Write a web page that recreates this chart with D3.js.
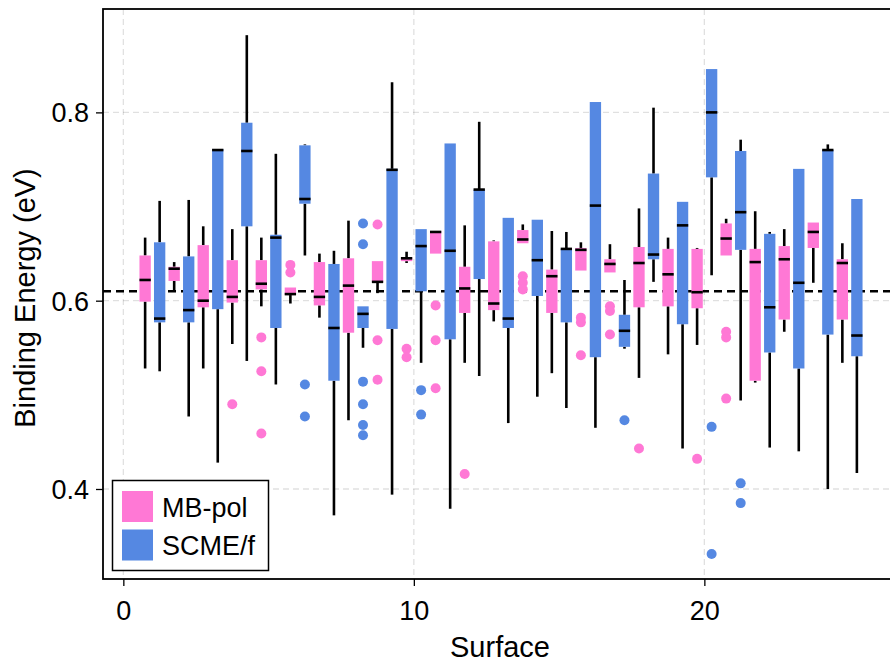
<!DOCTYPE html>
<html>
<head>
<meta charset="utf-8">
<script src="https://cdn.jsdelivr.net/npm/d3@7"></script>
<style>
  html, body { margin: 0; padding: 0; background: #fff; }
  svg { display: block; }
  text { font-family: "Liberation Sans", Arial, Helvetica, sans-serif; }
</style>
</head>
<body>
<svg id="chart" width="890" height="664"></svg>
<script>
// ---------- data ----------
const surfaces = [1,2,3,4,5,6,7,8,9,10,11,12,13,14,15,16,17,18,19,20,21,22,23,24,25];
const seriesNames = ["MB-pol", "SCME/f"];
const seriesColors = ["#ff78d5", "#5588e2"];

// MB-pol
const mbLow  = [0.528,0.611,0.528,0.554,0.594,0.597,0.582,0.473,0.608,0.640,0.650,0.534,0.578,0.661,0.523,0.632,0.630,0.518,0.543,0.553,0.648,0.513,0.567,0.619,0.534];
const mbQ1   = [0.599,0.621,0.593,0.598,0.612,0.606,0.595,0.566,0.620,0.642,0.650,0.587,0.590,0.661,0.587,0.632,0.630,0.593,0.594,0.592,0.648,0.515,0.580,0.656,0.580];
const mbMed  = [0.622,0.634,0.600,0.604,0.618,0.607,0.604,0.616,0.620,0.645,0.673,0.613,0.597,0.665,0.626,0.654,0.639,0.640,0.628,0.609,0.666,0.641,0.644,0.673,0.640];
const mbQ3   = [0.648,0.636,0.659,0.643,0.643,0.614,0.641,0.645,0.642,0.646,0.674,0.636,0.663,0.675,0.633,0.656,0.644,0.657,0.655,0.655,0.682,0.655,0.658,0.683,0.644];
const mbHigh = [0.667,0.641,0.679,0.676,0.667,0.614,0.650,0.685,0.642,0.652,0.674,0.680,0.664,0.681,0.674,0.662,0.660,0.698,0.667,0.656,0.687,0.695,0.676,0.683,0.661];
const mbOut  = [[],[],[],[0.490],[0.561,0.525,0.459],[0.638,0.630],[],[],[0.681,0.558,0.516],[0.549,0.540],
                [0.595,0.558,0.507],[0.416],[],[0.626,0.619,0.612],[],[0.582,0.577,0.542],[0.594,0.589,0.564],[0.443],[],[0.432],
                [0.567,0.561,0.496],[],[],[],[]];

// SCME/f
const scLow  = [0.525,0.477,0.428,0.536,0.511,0.648,0.372,0.550,0.394,0.534,0.379,0.520,0.470,0.498,0.486,0.465,0.549,0.620,0.443,0.627,0.494,0.444,0.440,0.400,0.417];
const scQ1   = [0.577,0.577,0.591,0.679,0.571,0.703,0.515,0.571,0.570,0.610,0.559,0.623,0.571,0.605,0.577,0.540,0.551,0.644,0.575,0.731,0.654,0.545,0.528,0.564,0.541];
const scMed  = [0.581,0.590,0.760,0.759,0.667,0.708,0.571,0.586,0.739,0.658,0.653,0.718,0.581,0.643,0.655,0.701,0.568,0.649,0.680,0.800,0.694,0.593,0.619,0.760,0.563];
const scQ3   = [0.662,0.647,0.761,0.789,0.670,0.765,0.639,0.594,0.740,0.676,0.767,0.718,0.688,0.686,0.655,0.811,0.585,0.735,0.705,0.846,0.759,0.671,0.740,0.760,0.708];
const scHigh = [0.706,0.707,0.761,0.882,0.756,0.766,0.653,0.594,0.832,0.676,0.767,0.790,0.688,0.686,0.673,0.811,0.622,0.805,0.705,0.846,0.771,0.673,0.740,0.766,0.708];
const scOut  = [[],[],[],[],[],[0.511,0.477],[],[0.682,0.660,0.514,0.490,0.468,0.457],[],[0.505,0.479],
                [],[],[],[],[],[],[0.473],[],[],[0.466,0.331],
                [0.406,0.385],[],[],[],[]];

const refLine = 0.61;
const xTicks = [0, 10, 20];
const yTicks = [0.4, 0.6, 0.8];
const xLabel = "Surface";
const yLabel = "Binding Energy (eV)";

// ---------- layout ----------
const svg = d3.select("#chart");
const L = 103, R = 899, T = 9, B = 579;
const x = d3.scaleLinear().domain([-0.7, 26.7]).range([L, R]);
const y = d3.scaleLinear().domain([0.3044, 0.9098]).range([B, T]);
const boxW = 0.39, offset = 0.25;

const series = [
  {name: seriesNames[0], color: seriesColors[0], off: -offset, low: mbLow, q1: mbQ1, med: mbMed, q3: mbQ3, high: mbHigh, out: mbOut},
  {name: seriesNames[1], color: seriesColors[1], off: offset,  low: scLow, q1: scQ1, med: scMed, q3: scQ3, high: scHigh, out: scOut}
];

// grid
const grid = svg.append("g").attr("stroke", "rgba(0,0,0,0.12)").attr("stroke-width", 1.3).attr("stroke-dasharray", "6,4");
xTicks.forEach(t => grid.append("line").attr("x1", x(t)).attr("x2", x(t)).attr("y1", T).attr("y2", B));
yTicks.forEach(t => grid.append("line").attr("x1", L).attr("x2", R).attr("y1", y(t)).attr("y2", y(t)));

// reference line
svg.append("line").attr("x1", L).attr("x2", R).attr("y1", y(refLine)).attr("y2", y(refLine))
  .attr("stroke", "#000").attr("stroke-width", 2.4).attr("stroke-dasharray", "8,5");

// boxes
series.forEach(s => {
  const g = svg.append("g");
  surfaces.forEach((sf, i) => {
    const cx = x(sf + s.off);
    g.append("line").attr("x1", cx).attr("x2", cx).attr("y1", y(s.high[i])).attr("y2", y(s.q3[i]))
      .attr("stroke", "#000").attr("stroke-width", 2.6);
    g.append("line").attr("x1", cx).attr("x2", cx).attr("y1", y(s.q1[i])).attr("y2", y(s.low[i]))
      .attr("stroke", "#000").attr("stroke-width", 2.6);
    const x0 = x(sf + s.off - boxW / 2), x1 = x(sf + s.off + boxW / 2);
    g.append("rect").attr("x", x0).attr("width", x1 - x0)
      .attr("y", y(s.q3[i])).attr("height", Math.max(1, y(s.q1[i]) - y(s.q3[i])))
      .attr("fill", s.color);
    g.append("line").attr("x1", x0).attr("x2", x1).attr("y1", y(s.med[i])).attr("y2", y(s.med[i]))
      .attr("stroke", "#000").attr("stroke-width", 2.6);
    s.out[i].forEach(v => {
      g.append("circle").attr("cx", cx).attr("cy", y(v)).attr("r", 5).attr("fill", s.color);
    });
  });
});

// frame
svg.append("rect").attr("x", L).attr("y", T).attr("width", R - L).attr("height", B - T)
  .attr("fill", "none").attr("stroke", "#000").attr("stroke-width", 1.8);

// axes
const xAxis = d3.axisBottom(x).tickValues(xTicks).tickFormat(d3.format("d")).tickSize(7).tickPadding(5);
const yAxis = d3.axisLeft(y).tickValues(yTicks).tickFormat(d3.format(".1f")).tickSize(7).tickPadding(7);
const gx = svg.append("g").attr("transform", `translate(0,${B})`).call(xAxis);
const gy = svg.append("g").attr("transform", `translate(${L},0)`).call(yAxis);
[gx, gy].forEach(g => {
  g.select(".domain").remove();
  g.selectAll(".tick line").attr("stroke", "#000").attr("stroke-width", 1.3);
  g.selectAll(".tick text").attr("fill", "#000").style("font-size", "27px")
    .style("font-family", '"Liberation Sans", Arial, Helvetica, sans-serif');
});
gx.selectAll(".tick text").attr("dy", null).attr("y", null).attr("transform", "translate(0,41)");
gy.selectAll(".tick text").attr("dy", "0.35em");

// axis labels
svg.append("text").attr("x", (L + R) / 2 - 1).attr("y", 657).attr("text-anchor", "middle")
  .style("font-size", "29px").attr("fill", "#000").text(xLabel);
svg.append("text").attr("transform", `translate(35,${(T + B) / 2 + 4}) rotate(-90)`).attr("text-anchor", "middle")
  .style("font-size", "29px").attr("fill", "#000").text(yLabel);

// legend
const lg = svg.append("g");
lg.append("rect").attr("x", 112.5).attr("y", 480.5).attr("width", 156).attr("height", 90)
  .attr("fill", "#fff").attr("stroke", "#000").attr("stroke-width", 1.5);
series.forEach((s, i) => {
  lg.append("rect").attr("x", 122).attr("y", 491 + i * 38.5).attr("width", 31).attr("height", 31).attr("fill", s.color);
  lg.append("text").attr("x", 162).attr("y", 516.5 + i * 38.5).style("font-size", "27px").attr("fill", "#000").text(s.name);
});
</script>
</body>
</html>
